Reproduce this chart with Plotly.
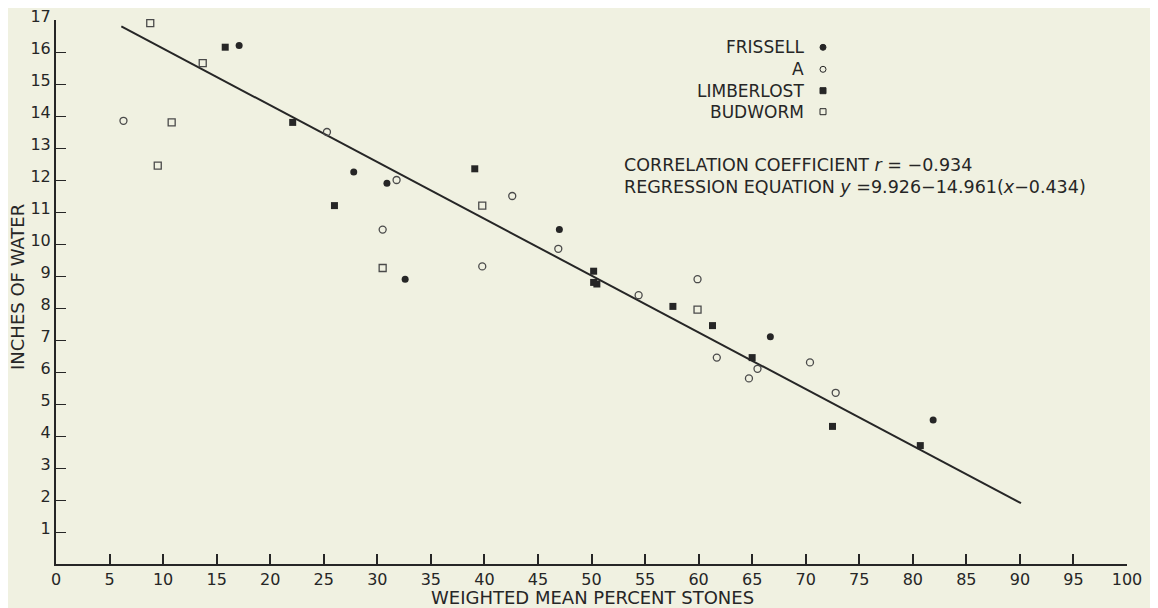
import plotly.graph_objects as go

# ---- data ----
frissell_x = [17.1, 27.8, 30.9, 32.6, 47.0, 66.7, 81.9]
frissell_y = [16.2, 12.25, 11.9, 8.9, 10.45, 7.1, 4.5]

a_x = [6.3, 25.3, 31.8, 30.5, 42.6, 39.8, 46.9, 54.4, 59.9, 61.7, 64.7, 65.5, 70.4, 72.8]
a_y = [13.85, 13.5, 12.0, 10.45, 11.5, 9.3, 9.85, 8.4, 8.9, 6.45, 5.8, 6.1, 6.3, 5.35]

limberlost_x = [15.8, 22.1, 26.0, 39.1, 50.2, 50.2, 50.5, 57.6, 61.3, 65.0, 72.5, 80.7]
limberlost_y = [16.15, 13.8, 11.2, 12.35, 9.15, 8.8, 8.75, 8.05, 7.45, 6.45, 4.3, 3.7]

budworm_x = [8.8, 13.7, 10.8, 9.5, 30.5, 39.8, 59.9]
budworm_y = [16.9, 15.65, 13.8, 12.45, 9.25, 11.2, 7.95]

reg_x = [6.1, 90.1]
reg_y = [16.8, 1.9]

x_ticks = list(range(0, 101, 5))
y_ticks = list(range(1, 18))

legend_labels = ["FRISSELL", "A", "LIMBERLOST", "BUDWORM"]

ink = "#262626"
bg = "#f0f1e1"
font = "DejaVu Sans"

fig = go.Figure()
fig.add_trace(go.Scatter(x=reg_x, y=reg_y, mode="lines",
                         line=dict(color=ink, width=2), showlegend=False, hoverinfo="skip"))
fig.add_trace(go.Scatter(x=frissell_x, y=frissell_y, mode="markers", name=legend_labels[0],
                         cliponaxis=False, marker=dict(symbol="circle", size=7, color=ink)))
fig.add_trace(go.Scatter(x=a_x, y=a_y, mode="markers", name=legend_labels[1], cliponaxis=False,
                         marker=dict(symbol="circle-open", size=7, color="#4a4a4a", line=dict(width=1.3))))
fig.add_trace(go.Scatter(x=limberlost_x, y=limberlost_y, mode="markers", name=legend_labels[2],
                         cliponaxis=False, marker=dict(symbol="square", size=7, color=ink)))
fig.add_trace(go.Scatter(x=budworm_x, y=budworm_y, mode="markers", name=legend_labels[3], cliponaxis=False,
                         marker=dict(symbol="square-open", size=7, color="#4a4a4a", line=dict(width=1.3))))

# the page body adds an 8px offset; compensate so the plot lands where the reference has it
OFF = 8
W, H = 1158 - OFF, 608 - OFF
L, R, T, B = 56 - OFF, 31, 20 - OFF, 44
pw, ph = W - L - R, H - T - B

def px_x(px):
    return (px - OFF - L) / pw

def px_y(py):
    return (H - B - (py - OFF)) / ph

annotations = []
shapes = []
rows_py = [47.3, 69.3, 90.7, 111.7]
marker_types = [("circle", True), ("circle", False), ("rect", True), ("rect", False)]
for lab, py, (kind, filled) in zip(legend_labels, rows_py, marker_types):
    annotations.append(dict(x=px_x(806), y=px_y(py), xref="paper", yref="paper",
                            text=lab, showarrow=False, xanchor="right", yanchor="middle",
                            font=dict(family=font, size=17, color=ink)))
    s = 3
    shapes.append(dict(type=kind, xref="paper", yref="paper", xsizemode="pixel", ysizemode="pixel",
                       xanchor=px_x(823), yanchor=px_y(py), x0=-s, x1=s, y0=-s, y1=s,
                       fillcolor=ink if filled else "rgba(0,0,0,0)",
                       line=dict(color=ink, width=1)))

annotations.append(dict(x=px_x(622), y=px_y(165), xref="paper", yref="paper",
                        text="CORRELATION COEFFICIENT <i>r</i> = −0.934", showarrow=False,
                        xanchor="left", yanchor="middle", font=dict(family=font, size=17.5, color=ink)))
annotations.append(dict(x=px_x(622), y=px_y(187), xref="paper", yref="paper",
                        text="REGRESSION EQUATION <i>y</i> =9.926−14.961(<i>x</i>−0.434)", showarrow=False,
                        xanchor="left", yanchor="middle", font=dict(family=font, size=17.5, color=ink)))
annotations.append(dict(x=px_x(592), y=px_y(597), xref="paper", yref="paper",
                        text="WEIGHTED MEAN PERCENT STONES", showarrow=False,
                        xanchor="center", yanchor="middle", font=dict(family=font, size=18, color=ink)))
annotations.append(dict(x=px_x(17), y=px_y(287), xref="paper", yref="paper", textangle=-90,
                        text="INCHES OF WATER", showarrow=False,
                        xanchor="center", yanchor="middle", font=dict(family=font, size=18, color=ink)))

fig.update_layout(
    width=W, height=H,
    margin=dict(l=L, r=R, t=T, b=B, autoexpand=False),
    paper_bgcolor=bg, plot_bgcolor=bg,
    showlegend=False,
    annotations=annotations, shapes=shapes,
    xaxis=dict(range=[0, 100], tickvals=x_ticks, ticks="inside", ticklen=10, tickwidth=1.5,
               tickcolor=ink, showline=True, linewidth=2, linecolor=ink, showgrid=False,
               zeroline=False, tickfont=dict(family=font, size=16, color=ink),
               ticklabeloverflow="allow"),
    yaxis=dict(range=[0, 17], tickvals=y_ticks, ticks="inside", ticklen=10, tickwidth=1.2,
               tickcolor=ink, showline=True, linewidth=2, linecolor=ink, showgrid=False,
               zeroline=False, tickfont=dict(family=font, size=16, color=ink),
               ticklabelshift=-4, ticklabelstandoff=0, ticklabeloverflow="allow"),
)

fig.write_html("out.html")
